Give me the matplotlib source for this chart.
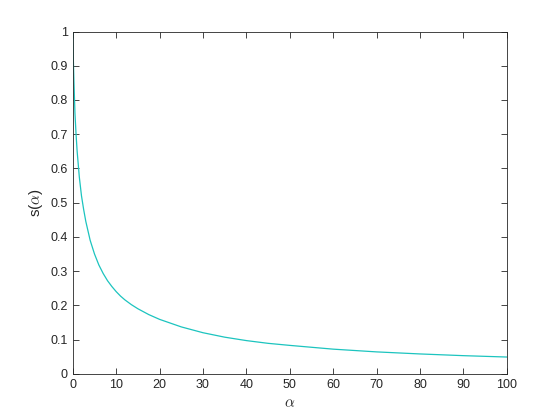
import numpy as np
import matplotlib
matplotlib.use('Agg')
import matplotlib.pyplot as plt

# values
alpha = [0, 0.1, 0.25, 0.5, 0.75, 1, 1.5, 2, 2.5, 3, 4, 5, 6, 7, 8, 9, 10, 11,
         12, 13.5, 15, 17.5, 20, 25, 30, 35, 40, 45, 50, 60, 70, 80, 90, 100]
s = [1, 0.93, 0.86, 0.76, 0.70, 0.65, 0.575, 0.52, 0.48, 0.445, 0.39, 0.35,
     0.318, 0.293, 0.272, 0.255, 0.240, 0.227, 0.216, 0.202, 0.190, 0.173,
     0.159, 0.137, 0.12, 0.107, 0.097, 0.089, 0.083, 0.072, 0.064, 0.058,
     0.053, 0.049]
xticks = list(range(0, 101, 10))
yticks = [0, 0.1, 0.2, 0.3, 0.4, 0.5, 0.6, 0.7, 0.8, 0.9, 1]

plt.rcParams['font.family'] = ['Liberation Sans', 'DejaVu Sans']
plt.rcParams['mathtext.fontset'] = 'cm'
axcol = '#262626'

fig = plt.figure(figsize=(5.6, 4.2), dpi=100)
ax = fig.add_axes([0.13, 0.11, 0.775, 0.815])
ax.plot(alpha, s, color='#1cc4bf', lw=0.9)

ax.set_xlim(0, 100)
ax.set_ylim(0, 1)
ax.set_xticks(xticks)
ax.set_yticks(yticks)
ax.set_yticklabels(['0', '0.1', '0.2', '0.3', '0.4', '0.5', '0.6', '0.7', '0.8', '0.9', '1'])
ax.tick_params(direction='in', length=4, width=0.6, colors=axcol, labelsize=9,
               top=True, right=True, labeltop=False, labelright=False)
for sp in ax.spines.values():
    sp.set_color(axcol)
    sp.set_linewidth(0.6)

ax.set_xlabel(r'$\alpha$', fontsize=11, color=axcol)
ax.set_ylabel(r's($\alpha$)', fontsize=11, color=axcol)

fig.savefig('out.png', dpi=100)
